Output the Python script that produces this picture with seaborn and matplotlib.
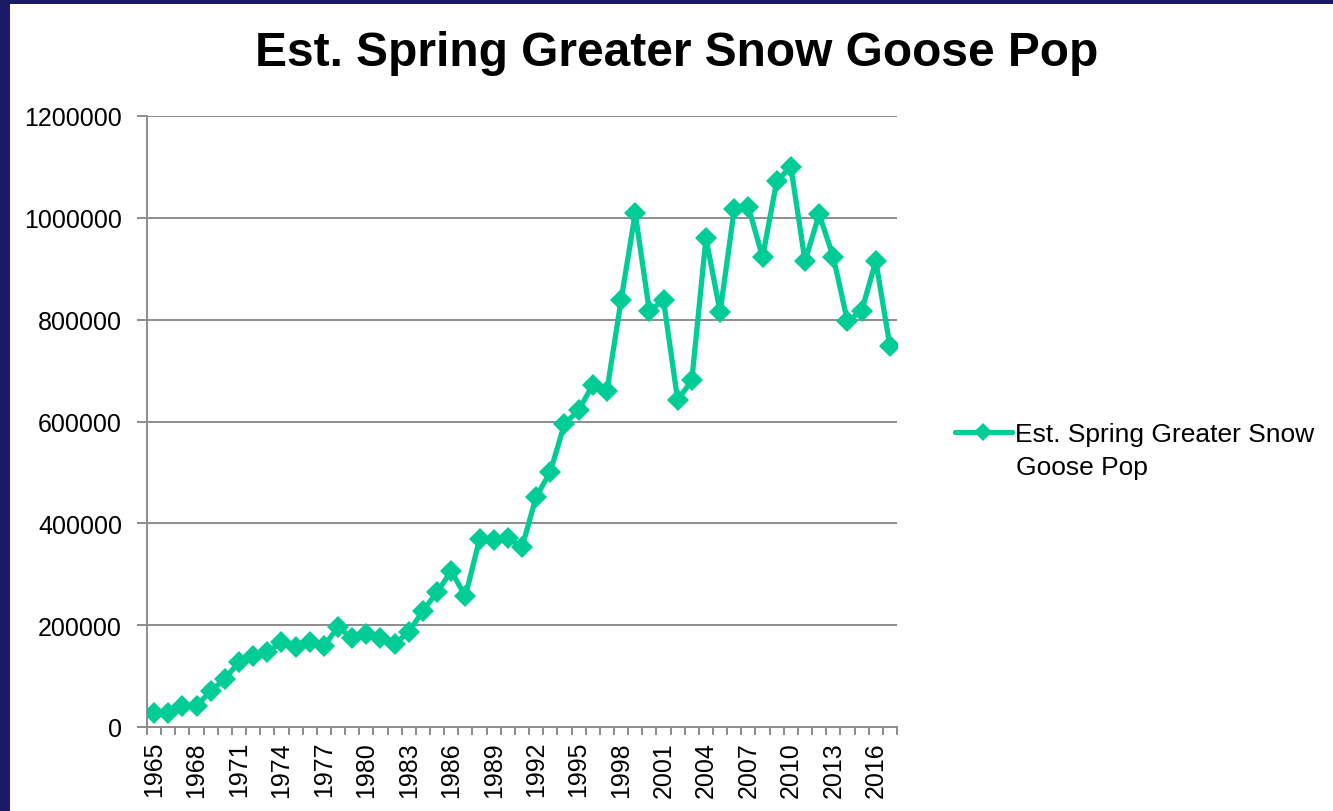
"""Est. Spring Greater Snow Goose population, Excel-style line chart."""

import matplotlib.pyplot as plt
import numpy as np
import pandas as pd
import seaborn as sns
from matplotlib.patches import Rectangle

years = list(range(1965, 2018))
population = [
    27000, 27000, 42000, 41000, 71000, 94000, 128000, 139000, 147000, 167000,
    157000, 167000, 159000, 196000, 175000, 183000, 175000, 163000, 187000, 228000,
    265000, 306000, 257000, 369000, 367000, 371000, 353000, 452000, 501000, 595000,
    622000, 672000, 660000, 838000, 1009000, 817000, 838000, 642000, 681000, 960000,
    815000, 1017000, 1021000, 923000, 1072000, 1100000, 915000, 1007000, 923000, 797000,
    817000, 915000, 748000,
]
series_name = "Est. Spring Greater Snow Goose Pop"
y_ticks = [0, 200000, 400000, 600000, 800000, 1000000, 1200000]
x_label_years = years[::3]

LINE = "#00cc96"
GRID = "#8c8c8c"
NAVY = "#1a1a66"

df = pd.DataFrame({"year": years, "pop": population})

sns.set_style("white")
plt.rcParams["font.family"] = ["Liberation Sans", "DejaVu Sans"]
plt.rcParams["text.color"] = "black"
plt.rcParams["xtick.color"] = "black"
plt.rcParams["ytick.color"] = "black"

fig = plt.figure(figsize=(13.33, 8.12), dpi=100, facecolor=NAVY)
fig.patches.append(Rectangle((10 / 1333, 0), 1, 1 - 5 / 812, transform=fig.transFigure,
                             facecolor="white", edgecolor="none", zorder=-10))
ax = fig.add_axes([147 / 1333, 1 - 728 / 812, 750 / 1333, 611 / 812])
ax.set_facecolor("white")

sns.lineplot(data=df, x="year", y="pop", ax=ax, color=LINE, linewidth=3.8,
             marker="D", markersize=11, markeredgewidth=0, label=series_name[:24],
             zorder=3)

ax.set_ylim(0, 1200000)
ax.set_yticks(y_ticks)
ax.set_yticklabels([str(v) for v in y_ticks], fontsize=18)
ax.set_xlim(years[0] - 0.5, years[-1] + 0.5)
ax.set_xticks(x_label_years)
ax.set_xticklabels([str(y) for y in x_label_years], rotation=90, fontsize=18)
ax.set_xticks(np.arange(years[0] - 0.5, years[-1] + 1), minor=True)
ax.tick_params(axis="x", which="major", bottom=True, length=0, pad=10)
ax.tick_params(axis="x", which="minor", bottom=True, length=6, width=1.4,
               color=GRID, direction="out")
ax.tick_params(axis="y", left=True, length=7, width=1.4, color=GRID,
               labelcolor="black", pad=11, direction="out")
ax.yaxis.grid(True, color=GRID, linewidth=1.4)
ax.set_axisbelow(True)
ax.set_xlabel("")
ax.set_ylabel("")
for side in ["top", "right"]:
    ax.spines[side].set_visible(False)
for side in ["left", "bottom"]:
    ax.spines[side].set_color(GRID)
    ax.spines[side].set_linewidth(1.4)

leg = ax.legend(loc="center left", bbox_to_anchor=(955 / 1333, 1 - 435 / 812),
                bbox_transform=fig.transFigure, frameon=False, fontsize=19,
                handlelength=2.15, handletextpad=0.12, borderpad=0, borderaxespad=0,
                markerscale=0.85)
fig.text(1016 / 1333, 1 - 475 / 812, series_name[25:], fontsize=19, va="baseline")

fig.text(0.508, 1 - 53 / 812, series_name, fontsize=34.5, fontweight="bold",
         ha="center", va="center")

fig.savefig("out.png", dpi=100, facecolor=NAVY)
